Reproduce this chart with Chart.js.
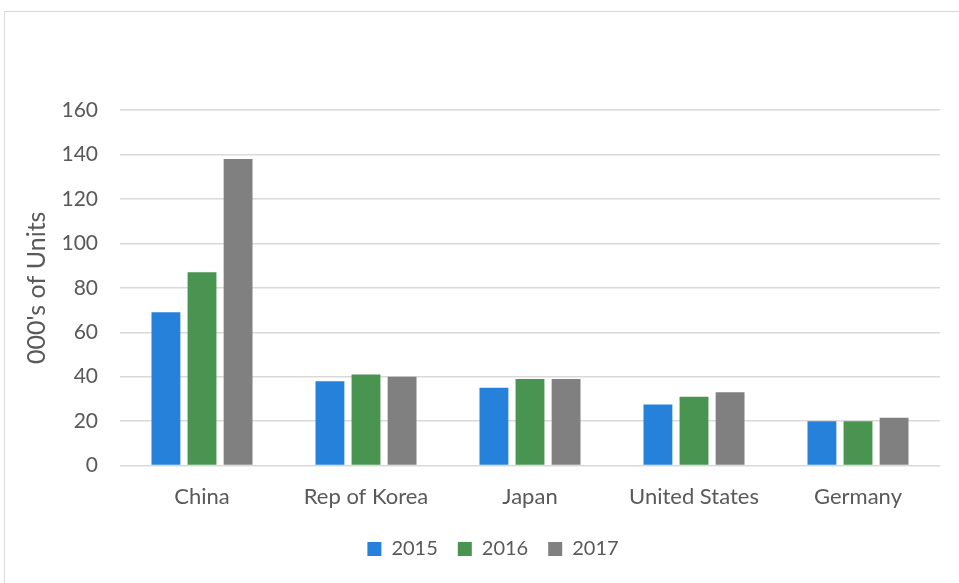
<!DOCTYPE html>
<html>
<head>
<meta charset="utf-8">
<script src="https://cdn.jsdelivr.net/npm/chart.js@4.4.1/dist/chart.umd.min.js"></script>
<style>
  html, body { margin: 0; padding: 0; background: #fff; }
  #wrap { position: relative; width: 959px; height: 583px; overflow: hidden; }
  #frame { position: absolute; left: 4px; top: 11px; width: 1000px; height: 700px;
           border: 1px solid #d9d9d9; box-sizing: border-box; }
  canvas { position: absolute; left: 0; top: 0; }
</style>
</head>
<body>
<div id="wrap">
  <div id="frame"></div>
  <canvas id="c" width="959" height="583"></canvas>
</div>
<script>
// Industrial robot installations by country, thousands of units
const categories = ['China', 'Rep of Korea', 'Japan', 'United States', 'Germany'];
const years = ['2015', '2016', '2017'];
const units2015 = [69, 38, 35, 27.5, 20];
const units2016 = [87, 41, 39, 31, 20];
const units2017 = [138, 40, 39, 33, 21.5];
const yTicks = [0, 20, 40, 60, 80, 100, 120, 140, 160];

const colors = ['#2581d9', '#4a9452', '#808080'];
const FONT = 'Lato, "Open Sans", sans-serif';
const TEXT = '#595959';

// Slide the legend a little to the right of the canvas centre
const legendShift = {
  id: 'legendShift',
  afterLayout(chart) {
    const lg = chart.legend;
    if (!lg) return;
    const dx = 12;
    lg.left += dx; lg.right += dx;
    if (lg.legendHitBoxes) lg.legendHitBoxes.forEach(b => { b.left += dx; });
  }
};

new Chart(document.getElementById('c'), {
  type: 'bar',
  data: {
    labels: categories,
    datasets: [units2015, units2016, units2017].map((d, i) => ({
      label: years[i],
      data: d,
      backgroundColor: colors[i],
      borderWidth: 0,
      categoryPercentage: 0.66,
      barPercentage: 0.8
    }))
  },
  options: {
    responsive: false,
    animation: false,
    layout: { padding: { top: 110, left: 22, right: 19, bottom: 14 } },
    plugins: {
      tooltip: { enabled: false },
      legend: {
        position: 'bottom',
        labels: {
          font: { family: FONT, size: 20 },
          color: TEXT,
          boxWidth: 14,
          boxHeight: 14,
          padding: 20
        }
      }
    },
    scales: {
      x: {
        afterFit(scale) { scale.height -= 9; },
        grid: { display: false, drawTicks: false },
        border: { display: false },
        ticks: { font: { family: FONT, size: 22 }, color: TEXT, padding: 18 }
      },
      y: {
        min: 0, max: 160,
        afterBuildTicks(scale) { scale.ticks = yTicks.map(v => ({ value: v })); },
        afterFit(scale) { scale.width = 98; },
        grid: { color: '#d9d9d9', lineWidth: 1.5, drawTicks: false },
        border: { display: false },
        ticks: { font: { family: FONT, size: 21 }, color: TEXT, padding: 22 },
        title: {
          display: true,
          text: "000's of Units",
          font: { family: FONT, size: 25 },
          color: TEXT,
          padding: 0
        }
      }
    }
  },
  plugins: [legendShift]
});
</script>
</body>
</html>
